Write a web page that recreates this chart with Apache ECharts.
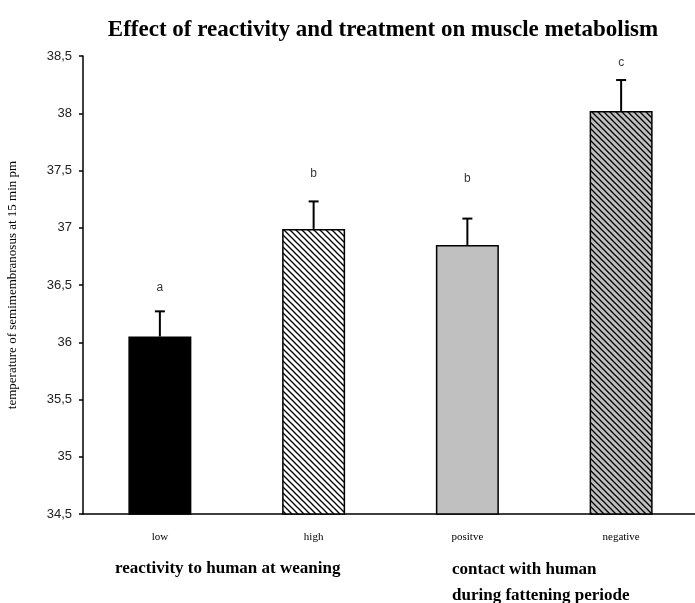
<!DOCTYPE html>
<html>
<head>
<meta charset="utf-8">
<script src="https://cdn.jsdelivr.net/npm/echarts@6/dist/echarts.min.js"></script>
<style>
  html, body { margin: 0; padding: 0; background: #fff; }
  #main { width: 695px; height: 603px; }
</style>
</head>
<body>
<div id="main"></div>
<script>
var groups = ['low', 'high', 'positve', 'negative'];
var means = [36.05, 36.99, 36.85, 38.02];
var errTops = [36.27, 37.23, 37.08, 38.29];
var letters = ['a', 'b', 'b', 'c'];
var letterPos = [36.48, 37.47, 37.43, 38.44];

// diagonal hatch pattern (\\\\)
function hatch(bg) {
    var c = document.createElement('canvas');
    c.width = 6; c.height = 6;
    var ctx = c.getContext('2d');
    ctx.fillStyle = bg;
    ctx.fillRect(0, 0, 6, 6);
    ctx.strokeStyle = '#000';
    ctx.lineWidth = 1.3;
    for (var i = -1; i <= 1; i++) {
        ctx.beginPath();
        ctx.moveTo(i * 6 - 1, -1);
        ctx.lineTo(i * 6 + 7, 7);
        ctx.stroke();
    }
    return { image: c, repeat: 'repeat' };
}

var fills = ['#000000', hatch('#ffffff'), '#c0c0c0', hatch('#c0c0c0')];

var chart = echarts.init(document.getElementById('main'));

var option = {
    animation: false,
    backgroundColor: '#fff',
    title: {
        text: 'Effect of reactivity and treatment on muscle metabolism',
        left: 378,
        top: 14,
        textAlign: 'center',
        textStyle: {
            fontFamily: 'Liberation Serif',
            fontWeight: 'bold',
            fontSize: 23,
            color: '#000'
        }
    },
    grid: { left: 83, right: -3, top: 56, bottom: 89, outerBoundsMode: 'none' },
    xAxis: {
        type: 'category',
        data: groups,
        axisLine: { lineStyle: { color: '#000', width: 1.5 } },
        axisTick: { show: false },
        axisLabel: {
            margin: 18,
            fontFamily: 'Liberation Serif',
            fontSize: 11,
            color: '#000'
        }
    },
    yAxis: {
        type: 'value',
        min: 34.5,
        max: 38.5,
        interval: 0.5,
        name: 'temperature of semimembranosus at 15 min pm',
        nameLocation: 'middle',
        nameGap: 64,
        nameTextStyle: {
            fontFamily: 'Liberation Serif',
            fontSize: 13,
            color: '#000'
        },
        axisLine: { show: true, lineStyle: { color: '#000', width: 1.5 } },
        axisTick: { show: true, length: 4, lineStyle: { color: '#000', width: 1.5 } },
        splitLine: { show: false },
        axisLabel: {
            margin: 11,
            fontFamily: 'Liberation Sans',
            fontSize: 13,
            color: '#222',
            formatter: function (v) { return String(v).replace('.', ','); }
        }
    },
    series: [
        {
            type: 'bar',
            barWidth: 63,
            data: means.map(function (v, i) {
                return {
                    value: v,
                    itemStyle: { color: fills[i], borderColor: '#000', borderWidth: 1.5 }
                };
            })
        },
        {
            type: 'custom',
            data: means.map(function (v, i) { return [i, v, errTops[i]]; }),
            renderItem: function (params, api) {
                var lo = api.coord([api.value(0), api.value(1)]);
                var hi = api.coord([api.value(0), api.value(2)]);
                var style = { stroke: '#000', lineWidth: 2 };
                return {
                    type: 'group',
                    children: [
                        { type: 'line', shape: { x1: lo[0], y1: lo[1], x2: hi[0], y2: hi[1] }, style: style },
                        { type: 'line', shape: { x1: hi[0] - 5, y1: hi[1], x2: hi[0] + 5, y2: hi[1] }, style: style }
                    ]
                };
            },
            z: 3
        },
        {
            type: 'scatter',
            symbolSize: 0,
            data: letterPos,
            label: {
                show: true,
                position: 'inside',
                formatter: function (p) { return letters[p.dataIndex]; },
                fontFamily: 'Liberation Sans',
                fontSize: 12,
                color: '#000'
            }
        }
    ],
    graphic: [
        {
            type: 'text', left: 115, top: 560,
            style: { text: 'reactivity to human at weaning', font: 'bold 17px "Liberation Serif"', fill: '#000' }
        },
        {
            type: 'text', left: 452, top: 557,
            style: { text: 'contact with human\nduring fattening periode', font: 'bold 17px "Liberation Serif"', fill: '#000', lineHeight: 26 }
        }
    ]
};

chart.setOption(option);
</script>
</body>
</html>
